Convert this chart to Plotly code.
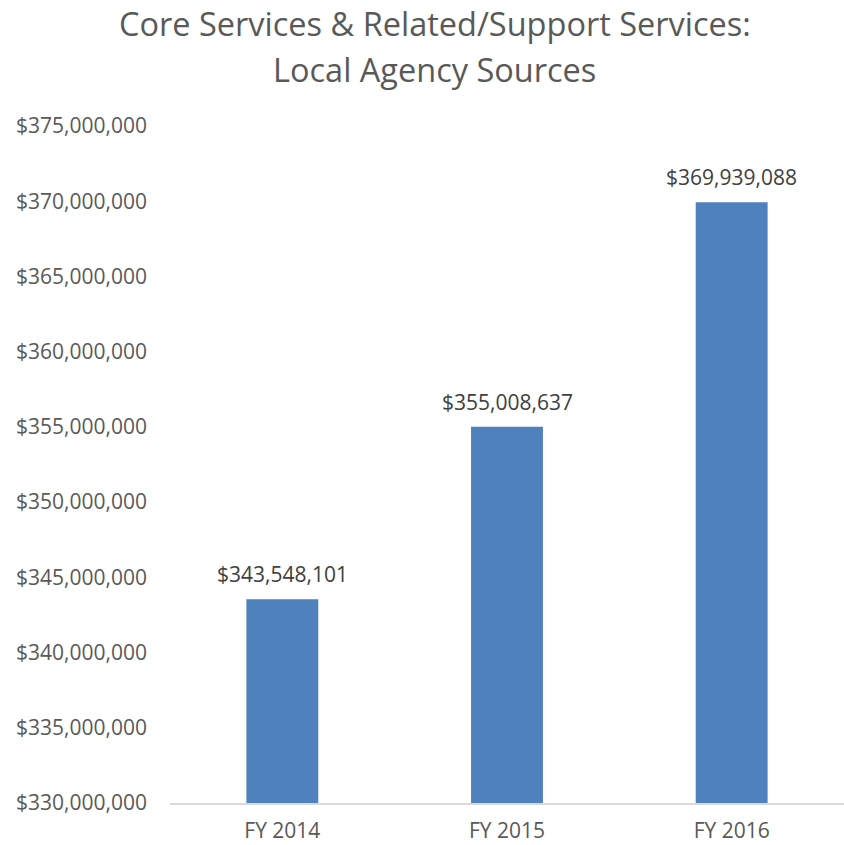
import plotly.graph_objects as go

# Local agency source totals by fiscal year
years = ["FY 2014", "FY 2015", "FY 2016"]
amounts = [343548101, 355008637, 369939088]
tick_vals = [330000000 + 5000000 * i for i in range(10)]
tick_text = ["${:,}".format(v) for v in tick_vals]
title_lines = ["Core Services & Related/Support Services:", "Local Agency Sources"]

FONT = "Open Sans"
GRAY = "#595959"

fig = go.Figure(
    go.Bar(
        x=years,
        y=amounts,
        marker=dict(color="#4F81BD", line=dict(width=0)),
        hoverinfo="skip",
    )
)

# Value labels above each bar
for yr, amt in zip(years, amounts):
    fig.add_annotation(
        x=yr, y=amt, text="${:,}".format(amt),
        showarrow=False, yanchor="bottom", yshift=9,
        font=dict(family=FONT, size=21, color="#404040"),
    )

# Two-line chart title, one annotation per line
for line, ypos in zip(title_lines, [1.1514, 1.0834]):
    fig.add_annotation(
        xref="paper", yref="paper", x=0.393, y=ypos,
        xanchor="center", yanchor="middle", showarrow=False,
        text=line,
        font=dict(family=FONT, size=32.5, color=GRAY),
    )

fig.update_layout(
    width=844, height=845,
    margin=dict(l=170, r=0, t=126, b=42),
    paper_bgcolor="white", plot_bgcolor="white",
    bargap=0.68,
    showlegend=False,
    xaxis=dict(
        showgrid=False, showline=True, linecolor="#D9D9D9", linewidth=2,
        ticks="", tickfont=dict(family=FONT, size=21, color=GRAY),
        ticklabelstandoff=8,
    ),
    yaxis=dict(
        range=[330000000, 375000000],
        tickvals=tick_vals, ticktext=tick_text,
        showgrid=False, zeroline=False, showline=False,
        ticks="", tickfont=dict(family=FONT, size=21, color=GRAY),
        ticklabelstandoff=22,
    ),
)

fig.write_html("out.html")
